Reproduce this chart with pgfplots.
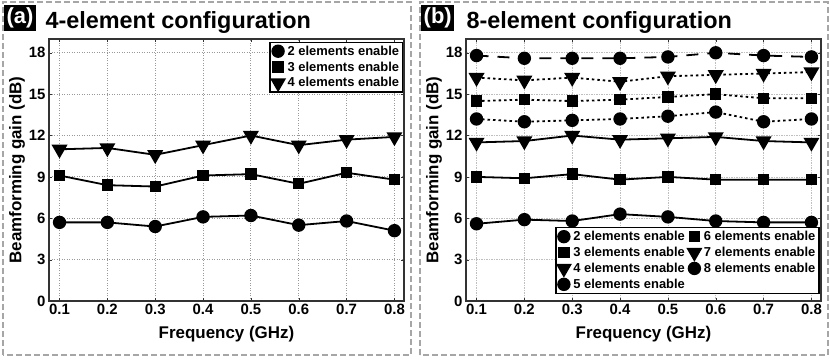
\documentclass[border=0pt]{standalone}
\usepackage{fontspec}
\setmainfont{Liberation Sans}
\usepackage{pgfplots}
\pgfplotsset{compat=1.18}

\pgfplotsset{
  panel/.style={
    scale only axis, width=355bp, height=262bp,
    xmin=0.078, xmax=0.82, ymin=0, ymax=19,
    xtick={0.1,0.2,0.3,0.4,0.5,0.6,0.7,0.8}, ytick={0,3,6,9,12,15,18},
    xticklabel style={/pgf/number format/.cd, fixed, fixed zerofill, precision=1},
    /pgf/number format/assume math mode=true,
    tick label style={font=\fontsize{15}{17}\selectfont\bfseries},
    label style={font=\fontsize{17}{19}\selectfont\bfseries},
    xlabel={Frequency (GHz)}, ylabel={Beamforming gain (dB)},
    xlabel style={at={(axis description cs:0.5,-0.125)}, anchor=center},
    ylabel style={at={(axis description cs:-0.09,0.5)}, anchor=center},
    grid=major,
    axis line style={line width=1.3bp, black!80},
    tick align=inside, major tick length=3bp, tick style={black!80},
    legend style={font=\fontsize{13}{15}\selectfont\bfseries, draw=black, line width=1.3bp,
      inner sep=1.5bp, row sep=1bp, column sep=1bp},
    legend cell align=left,
    legend image code/.code={\draw[mark repeat=2,mark phase=2] plot coordinates {(0bp,0bp)(5bp,0bp)(10bp,0bp)};},
  },
  s/.style={line width=1.8bp, black, solid},
  dot/.style={line width=1.8bp, black, dash pattern=on 2.5bp off 3bp},
  dsh/.style={line width=1.8bp, black, dash pattern=on 12bp off 9bp},
  mc/.style={mark=*, mark size=5.8, mark options={solid, fill=black}},
  ms/.style={mark=square*, mark size=4.8, mark options={solid, fill=black}},
  mt/.style={mark=triangle*, mark size=7.5, mark options={solid, fill=black, rotate=180}},
}

\begin{document}
\begin{tikzpicture}
\path (0bp,0bp) rectangle (830bp,360bp);
% panel frames
\draw[gray!70, line width=2bp, dash pattern=on 6bp off 3bp] (2.5bp,5bp) rectangle (411bp,357.5bp);
\draw[gray!70, line width=2bp, dash pattern=on 6bp off 3bp] (419.5bp,5bp) rectangle (827.5bp,357.5bp);
% titles
\node[fill=black, text=white, font=\fontsize{22}{24}\selectfont\bfseries, inner sep=2.5bp,
  anchor=north west] at (4bp,355bp) {(a)};
\node[font=\fontsize{23.5}{26}\selectfont\bfseries, anchor=base west] at (42bp,331bp) {4-element configuration};
\node[fill=black, text=white, font=\fontsize{22}{24}\selectfont\bfseries, inner sep=2.5bp,
  anchor=north west] at (421bp,355bp) {(b)};
\node[font=\fontsize{23.5}{26}\selectfont\bfseries, anchor=base west] at (463bp,331bp) {8-element configuration};

\begin{axis}[panel, at={(49bp,59bp)}, anchor=south west,
  grid style={gray!80, line width=0.9bp, dash pattern=on 1bp off 1.5bp},
  legend style={at={(0.998,0.99)}, anchor=north east}]
\addplot[s, mc] coordinates {(0.1,5.7) (0.2,5.7) (0.3,5.4) (0.4,6.1) (0.5,6.2) (0.6,5.5) (0.7,5.8) (0.8,5.1)};
\addplot[s, ms] coordinates {(0.1,9.1) (0.2,8.4) (0.3,8.3) (0.4,9.1) (0.5,9.2) (0.6,8.5) (0.7,9.3) (0.8,8.8)};
\addplot[s, mt] coordinates {(0.1,11.0) (0.2,11.1) (0.3,10.6) (0.4,11.3) (0.5,12.0) (0.6,11.3) (0.7,11.7) (0.8,11.9)};
\legend{2 elements enable, 3 elements enable, 4 elements enable}
\end{axis}

\begin{axis}[panel, at={(466bp,59bp)}, anchor=south west,
  grid style={gray!50, line width=0.7bp, dash pattern=on 1.5bp off 1bp},
  legend columns=2,
  legend style={at={(0.996,0.027)}, anchor=south east}]
\addplot[s, mc] coordinates {(0.1,5.6) (0.2,5.9) (0.3,5.8) (0.4,6.3) (0.5,6.1) (0.6,5.8) (0.7,5.7) (0.8,5.7)};
\addplot[dot, ms] coordinates {(0.1,14.5) (0.2,14.6) (0.3,14.5) (0.4,14.6) (0.5,14.8) (0.6,15.0) (0.7,14.7) (0.8,14.7)};
\addplot[s, ms] coordinates {(0.1,9.0) (0.2,8.9) (0.3,9.2) (0.4,8.8) (0.5,9.0) (0.6,8.8) (0.7,8.8) (0.8,8.8)};
\addplot[dot, mt] coordinates {(0.1,16.2) (0.2,16.0) (0.3,16.2) (0.4,15.9) (0.5,16.3) (0.6,16.4) (0.7,16.5) (0.8,16.6)};
\addplot[s, mt] coordinates {(0.1,11.5) (0.2,11.6) (0.3,12.0) (0.4,11.7) (0.5,11.8) (0.6,11.9) (0.7,11.6) (0.8,11.5)};
\addplot[dsh, mc] coordinates {(0.1,17.8) (0.2,17.6) (0.3,17.6) (0.4,17.6) (0.5,17.7) (0.6,18.0) (0.7,17.8) (0.8,17.7)};
\addplot[dot, mc] coordinates {(0.1,13.2) (0.2,13.0) (0.3,13.1) (0.4,13.2) (0.5,13.4) (0.6,13.7) (0.7,13.0) (0.8,13.2)};
\legend{2 elements enable, 6 elements enable, 3 elements enable, 7 elements enable,
  4 elements enable, 8 elements enable, 5 elements enable}
\end{axis}
\end{tikzpicture}
\end{document}
